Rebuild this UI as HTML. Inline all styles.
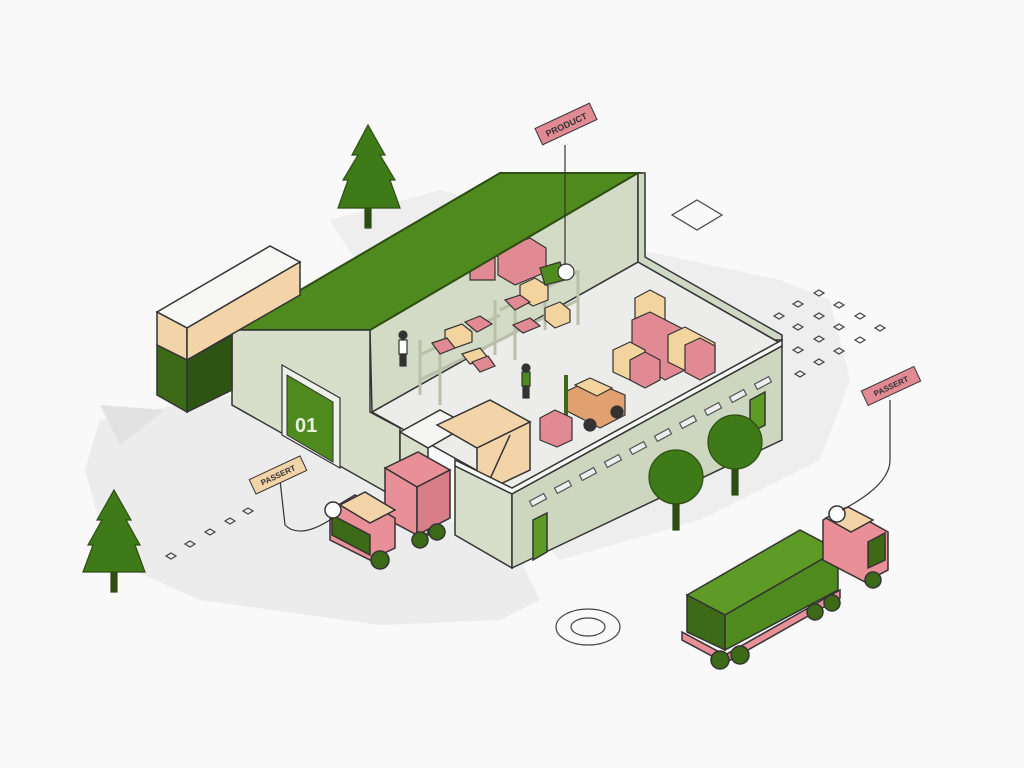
<!DOCTYPE html>
<html><head><meta charset="utf-8"><style>
html,body{margin:0;padding:0;background:#f9f9f9;}
svg{display:block}
text{font-family:"Liberation Sans",sans-serif;font-weight:bold}
</style></head><body>
<svg width="1024" height="768" viewBox="0 0 1024 768" xmlns="http://www.w3.org/2000/svg">
<defs><polygon id="d" points="0,-3 5,0 0,3 -5,0" fill="none" stroke="#444" stroke-width="1.2"/></defs>
<rect width="1024" height="768" fill="#f9f9f9"/>
<!-- ground shadows -->
<path d="M100,420 L230,395 L520,560 L540,600 L500,620 L380,625 L200,600 L110,560 L85,470 Z" fill="#ececec"/>
<path d="M330,220 L440,190 L640,250 L780,280 L830,300 L850,380 L820,460 L700,520 L560,560 L520,520 Z" fill="#eeeeee"/>
<path d="M100,405 L165,410 L120,445 Z" fill="#e2e2e2"/>
<!-- floor -->
<polygon points="372,412 638,262 780,343 512,490" fill="#ececea" stroke="#333" stroke-width="1.5"/>
<!-- back wall -->
<polygon points="370,330 638,173 638,262 372,412" fill="#d3dbc6" stroke="#333" stroke-width="1.5"/>
<!-- back right wall -->
<polygon points="638,173 638,262 775,340 782,340 782,335 645,257 645,173" fill="#cfd8c2" stroke="#333" stroke-width="1.5"/>
<!-- shelves -->
<g stroke="#b9bfa8" stroke-width="3" fill="none">
<line x1="420" y1="340" x2="420" y2="395"/><line x1="440" y1="350" x2="440" y2="405"/>
<line x1="495" y1="300" x2="495" y2="355"/><line x1="515" y1="305" x2="515" y2="360"/>
<line x1="545" y1="275" x2="545" y2="330"/><line x1="578" y1="270" x2="578" y2="325"/>
<line x1="420" y1="355" x2="500" y2="315"/><line x1="420" y1="380" x2="500" y2="340"/>
<line x1="500" y1="310" x2="578" y2="272"/><line x1="500" y1="340" x2="578" y2="300"/>
</g>
<!-- boxes interior -->
<g stroke="#333" stroke-width="1.2">
<polygon points="498,250 530,238 546,248 546,272 515,285 498,275" fill="#e28a94"/>
<polygon points="470,265 495,255 495,280 470,280" fill="#e28a94"/>
<polygon points="520,285 535,278 548,286 548,300 533,306 520,298" fill="#f3d49e"/>
<polygon points="540,268 560,262 565,280 545,285" fill="#4f8a1e"/>
<circle cx="566" cy="272" r="8" fill="#fff"/>
<polygon points="545,308 560,302 570,310 570,322 555,328 545,320" fill="#f3d49e"/>
<polygon points="505,300 520,295 530,302 515,310" fill="#e28a94"/>
<polygon points="513,325 530,318 540,326 523,333" fill="#e28a94"/>
<polygon points="445,330 462,324 472,332 472,342 455,348 445,340" fill="#f3d49e"/>
<polygon points="465,322 480,316 492,324 477,332" fill="#e28a94"/>
<polygon points="432,343 447,338 455,348 440,354" fill="#e28a94"/>
<polygon points="462,354 480,348 488,358 470,364" fill="#f3d49e"/>
<polygon points="472,362 488,356 495,366 480,372" fill="#e28a94"/>
<polygon points="635,298 650,290 665,298 665,320 650,328 635,320" fill="#f3d49e"/>
<polygon points="632,320 650,312 685,330 685,370 665,380 632,360" fill="#e28a94"/>
<polygon points="668,335 685,327 715,343 715,370 700,378 668,362" fill="#f3d49e"/>
<polygon points="685,345 700,338 715,346 715,372 700,380 685,372" fill="#e28a94"/>
<polygon points="613,350 630,342 645,350 645,372 630,380 613,372" fill="#f3d49e"/>
<polygon points="630,360 645,352 660,360 660,380 645,388 630,380" fill="#e28a94"/>
<polygon points="565,392 590,380 625,395 625,415 600,428 565,410" fill="#e0a070"/>
<polygon points="575,385 590,378 612,388 597,396" fill="#f3d49e"/>
<line x1="566" y1="375" x2="566" y2="430" stroke-width="4" stroke="#3d6a17"/>
<polygon points="540,418 555,410 572,418 572,440 557,447 540,440" fill="#e28a94"/>
<circle cx="590" cy="425" r="6" fill="#333"/><circle cx="617" cy="412" r="6" fill="#333"/>
<rect x="399" y="340" width="8" height="14" fill="#fff"/><rect x="400" y="354" width="6" height="12" fill="#333"/><circle cx="403" cy="335" r="4" fill="#333"/>
<rect x="522" y="372" width="8" height="14" fill="#4f8a1e"/><rect x="523" y="386" width="6" height="12" fill="#333"/><circle cx="526" cy="368" r="4" fill="#333"/>
</g>
<!-- roof -->
<polygon points="232,330 500,173 638,173 370,330" fill="#4f8a1e" stroke="#2d4d12" stroke-width="2"/>
<!-- front gable wall -->
<polygon points="232,330 370,330 370,412 400,428 400,500 232,405" fill="#d7dfcb" stroke="#333" stroke-width="1.5"/>
<polygon points="282,365 340,398 340,468 282,435" fill="#eef0ea" stroke="#333" stroke-width="1.2"/>
<polygon points="287,375 333,402 333,462 287,435" fill="#4f8a1e" stroke="#333" stroke-width="1"/>
<text x="295" y="432" font-size="20" fill="#e8f0e0" font-weight="normal">01</text>
<!-- left container -->
<g stroke="#333" stroke-width="1.5">
<polygon points="157,312 270,246 300,262 187,328" fill="#f7f7f5"/>
<polygon points="157,312 187,328 187,360 157,345" fill="#f3d4a8"/>
<polygon points="187,328 300,262 300,295 187,360" fill="#f3d4a8"/>
<polygon points="157,345 187,360 187,412 157,395" fill="#3d6a17"/>
<polygon points="187,360 232,335 232,390 187,412" fill="#2e5412"/>
</g>
<g stroke="#333" stroke-width="1.5">
<polygon points="400,432 440,410 468,425 428,448" fill="#f5f5f3"/>
<polygon points="400,432 428,448 428,535 400,520" fill="#d7dfcb"/>
<polygon points="437,425 490,400 530,422 477,448" fill="#f3d4a8"/>
<polygon points="477,448 530,422 530,470 477,495" fill="#f3d4a8"/>
<line x1="485" y1="490" x2="510" y2="435"/>
<!-- front long wall -->
<polygon points="455,460 512,488 782,340 782,346 512,494 455,466" fill="#f7f7f5"/>
<polygon points="455,466 512,494 512,568 455,535" fill="#d7dfcb"/>
<polygon points="512,494 782,346 782,440 512,568" fill="#cdd6bf"/>
<polygon points="533,520 547,513 547,552 533,560" fill="#5e9a26"/>
<polygon points="750,400 765,392 765,425 750,433" fill="#5e9a26"/>
</g>
<g fill="#eee" stroke="#555" stroke-width="1.2">
<rect x="530" y="497" width="16" height="6" transform="rotate(-28 538 500)"/>
<rect x="555" y="484" width="16" height="6" transform="rotate(-28 563 487)"/>
<rect x="580" y="471" width="16" height="6" transform="rotate(-28 588 474)"/>
<rect x="605" y="458" width="16" height="6" transform="rotate(-28 613 461)"/>
<rect x="630" y="445" width="16" height="6" transform="rotate(-28 638 448)"/>
<rect x="655" y="432" width="16" height="6" transform="rotate(-28 663 435)"/>
<rect x="680" y="419" width="16" height="6" transform="rotate(-28 688 422)"/>
<rect x="705" y="406" width="16" height="6" transform="rotate(-28 713 409)"/>
<rect x="730" y="393" width="16" height="6" transform="rotate(-28 738 396)"/>
<rect x="755" y="380" width="16" height="6" transform="rotate(-28 763 383)"/>
</g>
<!-- left truck -->
<g stroke="#333" stroke-width="1.5">
<polygon points="385,468 418,452 450,470 417,487" fill="#e98f98"/>
<polygon points="385,468 417,487 417,535 385,518" fill="#e98f98"/>
<polygon points="417,487 450,470 450,518 417,535" fill="#d87e88"/>
<polygon points="330,510 355,495 395,518 395,548 370,560 330,540" fill="#e98f98"/>
<polygon points="340,505 365,492 395,510 370,523" fill="#f3d4a8"/>
<polygon points="332,515 370,535 370,555 332,535" fill="#3d6a17"/>
<circle cx="380" cy="560" r="9" fill="#3d6a17"/><circle cx="420" cy="540" r="8" fill="#3d6a17"/><circle cx="437" cy="532" r="8" fill="#3d6a17"/>
<circle cx="333" cy="510" r="8" fill="#fff"/>
</g>
<path d="M333,518 Q300,540 285,525 L280,480" fill="none" stroke="#333" stroke-width="1.2"/>
<!-- right truck -->
<g stroke="#333" stroke-width="1.5">
<polygon points="687,595 800,530 838,550 725,615" fill="#5e9a26"/>
<polygon points="687,595 725,615 725,650 687,632" fill="#3d6a17"/>
<polygon points="725,615 838,550 838,590 725,650" fill="#4f8a1e"/>
<polygon points="682,632 725,655 840,590 840,598 725,663 682,640" fill="#e98f98"/>
<polygon points="823,520 845,508 888,532 888,570 865,582 823,560" fill="#e98f98"/>
<polygon points="826,518 848,507 873,520 851,532" fill="#f3d4a8"/>
<polygon points="868,542 885,533 885,560 868,568" fill="#3d6a17"/>
<circle cx="740" cy="655" r="9" fill="#3d6a17"/><circle cx="720" cy="660" r="9" fill="#3d6a17"/>
<circle cx="815" cy="612" r="8" fill="#3d6a17"/><circle cx="832" cy="603" r="8" fill="#3d6a17"/><circle cx="873" cy="580" r="8" fill="#3d6a17"/>
<circle cx="837" cy="514" r="8" fill="#fff"/>
</g>
<path d="M842,510 Q890,485 890,460 L890,400" fill="none" stroke="#333" stroke-width="1.2"/>
<line x1="565" y1="145" x2="565" y2="265" stroke="#333" stroke-width="1.2"/>
<!-- labels -->
<g transform="translate(566,124) rotate(-25)"><rect x="-30" y="-9" width="60" height="18" fill="#e28a94" stroke="#333"/><text x="0" y="4" font-size="9" text-anchor="middle" fill="#333">PRODUCT</text></g>
<g transform="translate(278,475) rotate(-25)"><rect x="-28" y="-8" width="56" height="16" fill="#f3d4a8" stroke="#333"/><text x="0" y="3" font-size="8" text-anchor="middle" fill="#333">PASSERT</text></g>
<g transform="translate(891,386) rotate(-25)"><rect x="-29" y="-8" width="58" height="16" fill="#e28a94" stroke="#333"/><text x="0" y="3" font-size="8" text-anchor="middle" fill="#333">PASSERT</text></g>
<!-- trees -->
<g stroke="#2d4d12" stroke-width="1.2">
<rect x="365" y="205" width="6" height="23" fill="#2d4d12"/>
<path d="M368,125 L385,155 L380,155 L395,180 L390,180 L400,208 L338,208 L348,180 L343,180 L358,155 L352,155 Z" fill="#3f7a18"/>
<rect x="111" y="570" width="6" height="22" fill="#2d4d12"/>
<path d="M114,490 L131,520 L126,520 L140,545 L135,545 L145,572 L83,572 L93,545 L88,545 L102,520 L97,520 Z" fill="#3f7a18"/>
<rect x="673" y="495" width="6" height="35" fill="#2d4d12"/>
<circle cx="676" cy="477" r="27" fill="#3f7a18"/>
<rect x="732" y="460" width="6" height="35" fill="#2d4d12"/>
<circle cx="735" cy="442" r="27" fill="#3f7a18"/>
</g>
<polygon points="697,200 722,215 697,230 672,215" fill="none" stroke="#444" stroke-width="1.2"/>
<ellipse cx="588" cy="627" rx="32" ry="18" fill="none" stroke="#444" stroke-width="1.2"/>
<ellipse cx="588" cy="627" rx="17" ry="9" fill="none" stroke="#444" stroke-width="1.2"/>
<use href="#d" x="819" y="293"/><use href="#d" x="798" y="304"/><use href="#d" x="839" y="305"/>
<use href="#d" x="779" y="316"/><use href="#d" x="819" y="316"/><use href="#d" x="860" y="316"/>
<use href="#d" x="798" y="327"/><use href="#d" x="839" y="327"/><use href="#d" x="880" y="328"/>
<use href="#d" x="819" y="339"/><use href="#d" x="860" y="340"/><use href="#d" x="798" y="350"/>
<use href="#d" x="839" y="351"/><use href="#d" x="819" y="362"/><use href="#d" x="800" y="374"/>
<use href="#d" x="248" y="511"/><use href="#d" x="230" y="521"/><use href="#d" x="210" y="532"/><use href="#d" x="190" y="544"/><use href="#d" x="171" y="556"/>
</svg>
</body></html>
